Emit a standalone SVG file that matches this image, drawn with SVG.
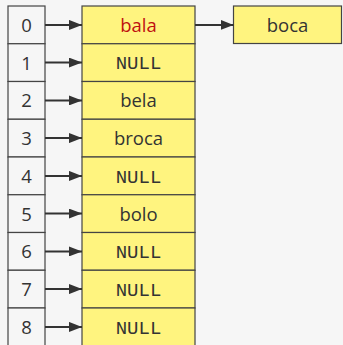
<svg xmlns="http://www.w3.org/2000/svg" width="343" height="345" viewBox="0 0 343 345">
<defs>
<marker id="ah" viewBox="0 0 13 10" refX="13" refY="5" markerWidth="13" markerHeight="10" markerUnits="userSpaceOnUse" orient="auto">
<path d="M0,0 L13,5 L0,10 z" fill="#333"/>
</marker>
<style>
.idx{fill:#f6f6f6;stroke:#444;stroke-width:1.2}
.val{fill:#fff47f;stroke:#444;stroke-width:1.2}
.t{font-family:"Open Sans","Liberation Sans",sans-serif;font-size:18.5px;fill:#333;text-anchor:middle}
.m{font-family:"Liberation Mono","Courier New",monospace;font-size:19px;fill:#333;text-anchor:middle}
.red{fill:#c01010}
.c{stroke:#333;stroke-width:2;fill:none;marker-end:url(#ah)}
</style>
</defs>
<rect width="343" height="345" fill="#f6f6f6"/>
<g id="idx0"><rect class="idx" x="8" y="6" width="37" height="37.75"/><text class="t" x="26.5" y="31.9">0</text></g>
<g id="idx1"><rect class="idx" x="8" y="43.75" width="37" height="37.75"/><text class="t" x="26.5" y="69.6">1</text></g>
<g id="idx2"><rect class="idx" x="8" y="81.5" width="37" height="37.75"/><text class="t" x="26.5" y="107.4">2</text></g>
<g id="idx3"><rect class="idx" x="8" y="119.25" width="37" height="37.75"/><text class="t" x="26.5" y="145.1">3</text></g>
<g id="idx4"><rect class="idx" x="8" y="157" width="37" height="37.75"/><text class="t" x="26.5" y="182.9">4</text></g>
<g id="idx5"><rect class="idx" x="8" y="194.75" width="37" height="37.75"/><text class="t" x="26.5" y="220.6">5</text></g>
<g id="idx6"><rect class="idx" x="8" y="232.5" width="37" height="37.75"/><text class="t" x="26.5" y="258.4">6</text></g>
<g id="idx7"><rect class="idx" x="8" y="270.25" width="37" height="37.75"/><text class="t" x="26.5" y="296.1">7</text></g>
<g id="idx8"><rect class="idx" x="8" y="308" width="37" height="37.75"/><text class="t" x="26.5" y="333.9">8</text></g>
<g id="val0"><rect class="val" x="82" y="6" width="113" height="37.75"/><text class="t red" x="138.5" y="31.9">bala</text></g>
<g id="val1"><rect class="val" x="82" y="43.75" width="113" height="37.75"/><text class="m" x="138.5" y="69.3">NULL</text></g>
<g id="val2"><rect class="val" x="82" y="81.5" width="113" height="37.75"/><text class="t" x="138.5" y="107.4">bela</text></g>
<g id="val3"><rect class="val" x="82" y="119.25" width="113" height="37.75"/><text class="t" x="138.5" y="145.1">broca</text></g>
<g id="val4"><rect class="val" x="82" y="157" width="113" height="37.75"/><text class="m" x="138.5" y="182.6">NULL</text></g>
<g id="val5"><rect class="val" x="82" y="194.75" width="113" height="37.75"/><text class="t" x="138.5" y="220.6">bolo</text></g>
<g id="val6"><rect class="val" x="82" y="232.5" width="113" height="37.75"/><text class="m" x="138.5" y="258.1">NULL</text></g>
<g id="val7"><rect class="val" x="82" y="270.25" width="113" height="37.75"/><text class="m" x="138.5" y="295.8">NULL</text></g>
<g id="val8"><rect class="val" x="82" y="308" width="113" height="37.75"/><text class="m" x="138.5" y="333.6">NULL</text></g>
<g id="boca"><rect class="val" x="233.5" y="6" width="108" height="37.5"/><text class="t" x="287.5" y="31.9">boca</text></g>
<g id="connectors">
<line class="c" x1="45" y1="24.9" x2="82" y2="24.9"/>
<line class="c" x1="45" y1="62.6" x2="82" y2="62.6"/>
<line class="c" x1="45" y1="100.4" x2="82" y2="100.4"/>
<line class="c" x1="45" y1="138.1" x2="82" y2="138.1"/>
<line class="c" x1="45" y1="175.9" x2="82" y2="175.9"/>
<line class="c" x1="45" y1="213.6" x2="82" y2="213.6"/>
<line class="c" x1="45" y1="251.4" x2="82" y2="251.4"/>
<line class="c" x1="45" y1="289.1" x2="82" y2="289.1"/>
<line class="c" x1="45" y1="326.9" x2="82" y2="326.9"/>
<line class="c" x1="195" y1="24.9" x2="233.5" y2="24.9"/>
</g>
</svg>
